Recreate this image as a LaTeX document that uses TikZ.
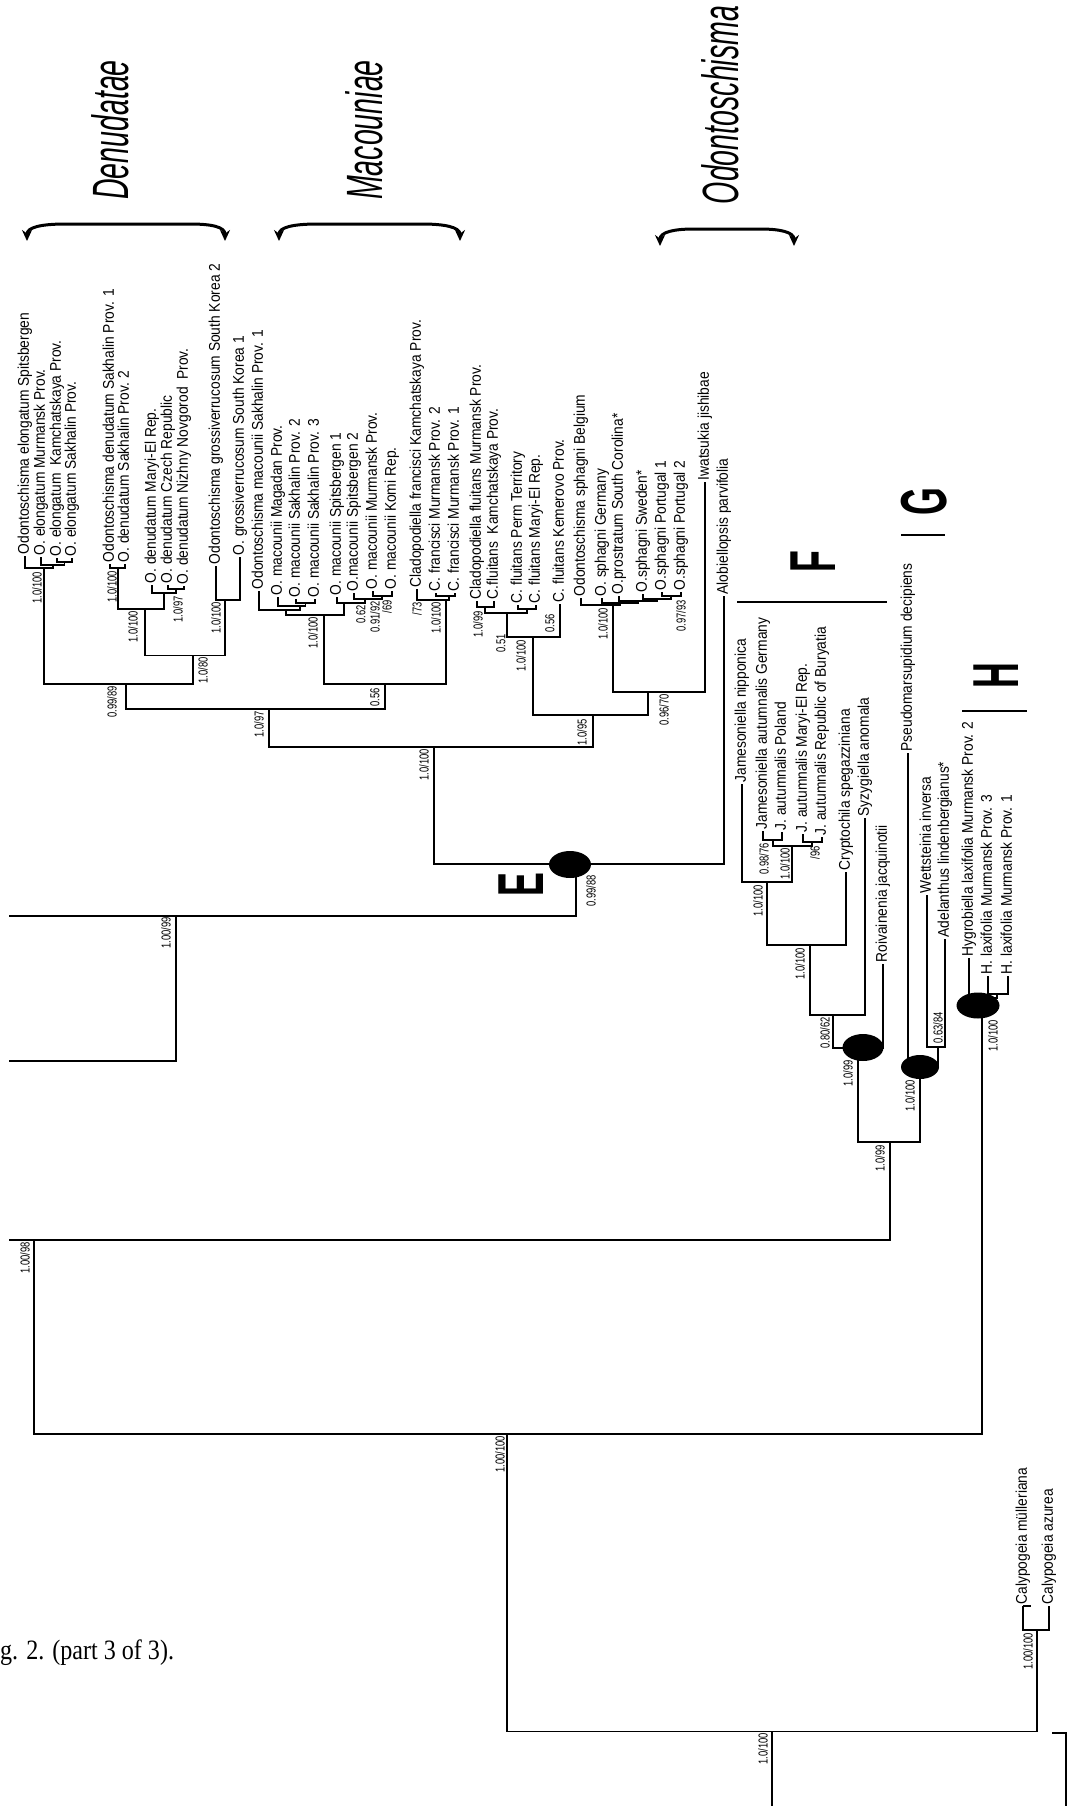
\documentclass[tikz,border=0pt]{standalone}
\usepackage{fontspec}
\usepackage{graphicx}
\setmainfont{Liberation Sans}
\newfontfamily\capfont{Liberation Serif}
\newfontfamily\labfont[FakeStretch=0.89]{Liberation Sans}
\usetikzlibrary{arrows.meta,shapes.geometric}
\newcommand{\sv}[1]{\scalebox{0.72}[1]{#1}}
\newcommand{\cladename}[1]{\scalebox{0.56}[1]{\itshape #1}}
\newcommand{\bigletter}[1]{\scalebox{0.55}[1]{\bfseries #1}}
\begin{document}
\begin{tikzpicture}[x=1pt,y=-1pt,
  br/.style={line width=1.7pt, line join=miter},
  lab/.style={rotate=90, anchor=west, inner sep=1.5pt, font=\labfont\fontsize{15.5}{16}\selectfont, text height=11pt, text depth=3.2pt},
  sup/.style={rotate=90, anchor=east, inner sep=0pt, font=\fontsize{13}{13}\selectfont},
  blob/.style={ellipse, fill=black, draw=none, inner sep=0pt},
  clade/.style={rotate=90, inner sep=0pt, font=\fontsize{51}{51}\selectfont},
  letter/.style={rotate=90, inner sep=0pt, font=\fontsize{65}{65}\selectfont},
  brk/.style={line width=3pt, {Stealth[length=11pt,width=10pt]}-{Stealth[length=11pt,width=10pt]}},
  bar/.style={line width=2pt}]
\fill[white] (0,0) rectangle (1068,1806);
\useasboundingbox (0,0) rectangle (1068,1806);

% ---------- clade names and brackets ----------
\node[clade] (cDen) at (110,130) {\cladename{Denudatae}};
\node[clade] (cMac) at (364,130) {\cladename{Macouniae}};
\node[clade] (cOdo) at (720,105) {\cladename{Odontoschisma}};
\coordinate (bD1) at (27,241); \coordinate (bD2) at (225,241);
\coordinate (bM1) at (279,241); \coordinate (bM2) at (460,241);
\coordinate (bO1) at (660,246); \coordinate (bO2) at (794,246);
\draw[brk] (bD1) .. controls (27,227) and (42,224) .. (66,224) -- (190,224) .. controls (212,224) and (225,227) .. (bD2);
\draw[brk] (bM1) .. controls (279,227) and (294,224) .. (318,224) -- (422,224) .. controls (444,224) and (460,227) .. (bM2);
\draw[brk] (bO1) .. controls (660,232) and (674,229) .. (694,229) -- (760,229) .. controls (780,229) and (794,232) .. (bO2);

% ---------- tip labels: E clade ----------
\node[lab] (t1) at (25,556) {Odontoschisma elongatum Spitsbergen};
\node[lab] (t2) at (41,557) {O. elongatum Murmansk Prov.};
\node[lab] (t3) at (57,558) {O. elongatum\ \ Kamchatskaya Prov.};
\node[lab] (t4) at (72,558) {O. elongatum Sakhalin Prov.};
\node[lab] (t5) at (110,564) {Odontoschisma denudatum Sakhalin Prov. 1};
\node[lab] (t6) at (125,564) {O. denudatum Sakhalin Prov. 2};
\node[lab] (t7) at (152,585) {O. denudatum Maryi-El Rep.};
\node[lab] (t8) at (168,585) {O. denudatum Czech Republic};
\node[lab] (t9) at (184,586) {O. denudatum Nizhny Novgorod\ \ Prov.};
\node[lab] (t10) at (216,566) {Odontoschisma grossiverrucosum South Korea 2};
\node[lab] (t11) at (240,557) {O. grossiverrucosum South Korea 1};
\node[lab] (t12) at (259,591) {Odontoschisma macounii Sakhalin Prov. 1};
\node[lab] (t13) at (278,597) {O. macounii Magadan Prov.};
\node[lab] (t14) at (296,599) {O. macounii Sakhalin Prov. 2};
\node[lab] (t15) at (315,599) {O. macounii Sakhalin Prov. 3};
\node[lab] (t16) at (337,597) {O. macounii Spitsbergen 1};
\node[lab] (t17) at (354,593) {O.macounii Spitsbergen 2};
\node[lab] (t18) at (373,591) {O. macounii Murmansk Prov.};
\node[lab] (t19) at (392,591) {O. macounii Komi Rep.};
\node[lab] (t20) at (417,589) {Cladopodiella francisci Kamchatskaya Prov.};
\node[lab] (t21) at (436,593) {C. francisci Murmansk Prov. 2};
\node[lab] (t22) at (455,593) {C. francisci Murmansk Prov. 1};
\node[lab] (t23) at (477,601) {Cladopodiella fluitans Murmansk Prov.};
\node[lab] (t24) at (494,601) {C.fluitans\ \ Kamchatskaya Prov.};
\node[lab] (t25) at (518,605) {C. fluitans Perm Territory};
\node[lab] (t26) at (536,605) {C. fluitans Maryi-El Rep.};
\node[lab] (t27) at (560,604) {C. fluitans Kemerovo Prov.};
\node[lab] (t28) at (581,598) {Odontoschisma sphagni Belgium};
\node[lab] (t29) at (602,598) {O. sphagni Germany};
\node[lab] (t30) at (619,596) {O.prostratum South Corolina*};
\node[lab] (t31) at (643,594) {O.sphagni Sweden*};
\node[lab] (t32) at (662,592) {O.sphagni Portugal 1};
\node[lab] (t33) at (681,592) {O.sphagni Portugal 2};
\node[lab] (t34) at (705,482) {Iwatsukia jishibae};
\node[lab] (t35) at (724,596) {Alobiellopsis parvifolia};

% ---------- tip labels: F, G, H, outgroup ----------
\node[lab] (tF1) at (742,784) {Jamesoniella nipponica};
\node[lab] (tF2) at (763,831) {Jamesoniella autumnalis Germany};
\node[lab] (tF3) at (782,832) {J. autumnalis Poland};
\node[lab] (tF4) at (803,834) {J. autumnalis Maryi-El Rep.};
\node[lab] (tF5) at (822,837) {J. autumnalis Republic of Buryatia};
\node[lab] (tF6) at (846,872) {Cryptochila spegazziniana};
\node[lab] (tF7) at (865,818) {Syzygiella anomala};
\node[lab] (tF8) at (883,964) {Roivainenia jacquinotii};
\node[lab] (tG1) at (908,753) {Pseudomarsupidium decipiens};
\node[lab] (tG2) at (927,895) {Wettsteinia inversa};
\node[lab] (tG3) at (945,939) {Adelanthus lindenbergianus*};
\node[lab] (tH1) at (969,958) {Hygrobiella laxifolia Murmansk Prov. 2};
\node[lab] (tH2) at (988,976) {H. laxifolia Murmansk Prov. 3};
\node[lab] (tH3) at (1008,976) {H. laxifolia Murmansk Prov. 1};
\node[lab] (tc1) at (1023,1606) {Calypogeia m\"ulleriana};
\node[lab] (tc2) at (1049,1606) {Calypogeia azurea};

% ---------- internal nodes ----------
\coordinate (ne3) at (64.5,562); \coordinate (ne2) at (53,565); \coordinate (nEl) at (44,568);
\coordinate (nP56) at (118,568); \coordinate (nR89) at (176,589); \coordinate (nQ) at (164,593);
\coordinate (nD) at (145,609); \coordinate (nGr) at (225,600); \coordinate (nN5) at (193,655.5);
\coordinate (nDen) at (126,684);
\coordinate (nM4) at (305.5,603); \coordinate (nM3) at (300,606); \coordinate (nM2) at (286,610);
\coordinate (nM7) at (382,596); \coordinate (nM6) at (365,599); \coordinate (nM5) at (344,603);
\coordinate (nM1) at (324,615); \coordinate (nF2) at (449,596); \coordinate (nF) at (446,600);
\coordinate (nMac) at (385,684); \coordinate (nB) at (269,709);
\coordinate (nc1) at (485,607); \coordinate (nc2b) at (527,609); \coordinate (nc0) at (507,613);
\coordinate (nFl) at (533,637);
\coordinate (nSp5) at (671,596); \coordinate (nSp4) at (657,599); \coordinate (nSp3) at (638,601);
\coordinate (nSp2) at (620,603); \coordinate (nSp) at (613,605); \coordinate (nSpI) at (648,692);
\coordinate (nO) at (593,715); \coordinate (nA) at (434,747); \coordinate (nE) at (576,864);
\coordinate (r1) at (176,916); \coordinate (cut1) at (9,916); \coordinate (r2) at (9,1061);
\coordinate (nJa) at (773,840); \coordinate (nJb) at (812,842); \coordinate (nJc) at (792,846);
\coordinate (nJ) at (767,882); \coordinate (nC) at (810,945); \coordinate (nS) at (833,1015);
\coordinate (nR) at (858,1048); \coordinate (nW) at (938,1047); \coordinate (nG) at (920,1067);
\coordinate (nFG) at (890,1142); \coordinate (r3) at (34,1240); \coordinate (cut3) at (9,1240);
\coordinate (nH2) at (997,994); \coordinate (nH) at (982,998);
\coordinate (r4) at (507,1434); \coordinate (nCal) at (1037,1630); \coordinate (r5) at (772,1731.5);
\coordinate (rb) at (772,1806);
\coordinate (m1) at (1052,1733); \coordinate (m2) at (1066,1733); \coordinate (m3) at (1066,1806);

% ---------- branches ----------
\draw[br] (t3.west) |- (ne3); \draw[br] (t4.west) |- (ne3);
\draw[br] (t2.west) |- (ne2); \draw[br] (ne3) |- (ne2);
\draw[br] (t1.west) |- (nEl); \draw[br] (ne2) |- (nEl);
\draw[br] (t5.west) |- (nP56); \draw[br] (t6.west) |- (nP56);
\draw[br] (t8.west) |- (nR89); \draw[br] (t9.west) |- (nR89);
\draw[br] (t7.west) |- (nQ); \draw[br] (nR89) |- (nQ);
\draw[br] (nP56) |- (nD); \draw[br] (nQ) |- (nD);
\draw[br] (t10.west) |- (nGr); \draw[br] (t11.west) |- (nGr);
\draw[br] (nD) |- (nN5); \draw[br] (nGr) |- (nN5);
\draw[br] (nEl) |- (nDen); \draw[br] (nN5) |- (nDen);
\draw[br] (t14.west) |- (nM4); \draw[br] (t15.west) |- (nM4);
\draw[br] (t13.west) |- (nM3); \draw[br] (nM4) |- (nM3);
\draw[br] (t12.west) |- (nM2); \draw[br] (nM3) |- (nM2);
\draw[br] (t18.west) |- (nM7); \draw[br] (t19.west) |- (nM7);
\draw[br] (t17.west) |- (nM6); \draw[br] (nM7) |- (nM6);
\draw[br] (t16.west) |- (nM5); \draw[br] (nM6) |- (nM5);
\draw[br] (nM2) |- (nM1); \draw[br] (nM5) |- (nM1);
\draw[br] (t21.west) |- (nF2); \draw[br] (t22.west) |- (nF2);
\draw[br] (t20.west) |- (nF); \draw[br] (nF2) |- (nF);
\draw[br] (nM1) |- (nMac); \draw[br] (nF) |- (nMac);
\draw[br] (nDen) |- (nB); \draw[br] (nMac) |- (nB);
\draw[br] (t23.west) |- (nc1); \draw[br] (t24.west) |- (nc1);
\draw[br] (t25.west) |- (nc2b); \draw[br] (t26.west) |- (nc2b);
\draw[br] (nc1) |- (nc0); \draw[br] (nc2b) |- (nc0);
\draw[br] (nc0) |- (nFl); \draw[br] (t27.west) |- (nFl);
\draw[br] (t32.west) |- (nSp5); \draw[br] (t33.west) |- (nSp5);
\draw[br] (t31.west) |- (nSp4); \draw[br] (nSp5) |- (nSp4);
\draw[br] (t30.west) |- (nSp3); \draw[br] (nSp4) |- (nSp3);
\draw[br] (t29.west) |- (nSp2); \draw[br] (nSp3) |- (nSp2);
\draw[br] (t28.west) |- (nSp); \draw[br] (nSp2) |- (nSp);
\draw[br] (nSp) |- (nSpI); \draw[br] (t34.west) |- (nSpI);
\draw[br] (nFl) |- (nO); \draw[br] (nSpI) |- (nO);
\draw[br] (nB) |- (nA); \draw[br] (nO) |- (nA);
\draw[br] (nA) |- (nE); \draw[br] (t35.west) |- (nE);
\draw[br] (nE) |- (r1); \draw[br] (cut1) -- (r1);
\draw[br] (r1) |- (r2);
% F clade
\draw[br] (tF2.west) |- (nJa); \draw[br] (tF3.west) |- (nJa);
\draw[br] (tF4.west) |- (nJb); \draw[br] (tF5.west) |- (nJb);
\draw[br] (nJa) |- (nJc); \draw[br] (nJb) |- (nJc);
\draw[br] (tF1.west) |- (nJ); \draw[br] (nJc) |- (nJ);
\draw[br] (nJ) |- (nC); \draw[br] (tF6.west) |- (nC);
\draw[br] (nC) |- (nS); \draw[br] (tF7.west) |- (nS);
\draw[br] (nS) |- (nR); \draw[br] (tF8.west) |- (nR);
% G clade
\draw[br] (tG2.west) |- (nW); \draw[br] (tG3.west) |- (nW);
\draw[br] (tG1.west) |- (nG); \draw[br] (nW) |- (nG);
\draw[br] (nR) |- (nFG); \draw[br] (nG) |- (nFG);
\draw[br] (nFG) |- (r3); \draw[br] (cut3) -- (r3);
% H clade
\draw[br] (tH2.west) |- (nH2); \draw[br] (tH3.west) |- (nH2);
\draw[br] (tH1.west) |- (nH); \draw[br] (nH2) |- (nH);
\draw[br] (r3) |- (r4); \draw[br] (nH) |- (r4);
% outgroup
\draw[br] (tc1.west) -- ++(8,0);
\draw[br] (tc1.west) |- (nCal); \draw[br] (tc2.west) |- (nCal);
\draw[br] (r4) |- (r5); \draw[br] (nCal) |- (r5);
\draw[br] (r5) -- (rb);
\draw[br] (m1) -- (m2) -- (m3);

% ---------- node blobs ----------
\node[blob, minimum width=42pt, minimum height=27pt] (cE) at (570,864.5) {};
\node[blob, minimum width=41pt, minimum height=27pt] (cR) at (863,1047.5) {};
\node[blob, minimum width=38pt, minimum height=24pt] (cG) at (920,1067) {};
\node[blob, minimum width=43pt, minimum height=26pt] (cH) at (978,1005.5) {};

% ---------- support values ----------
\node[sup] (sEl) at (37,572) {\sv{1.0/100}};
\node[sup] (sP56) at (112,571) {\sv{1.0/100}};
\node[sup] (sQ) at (178,596) {\sv{1.0/97}};
\node[sup] (sD) at (133,611) {\sv{1.0/100}};
\node[sup] (sGr) at (216,602) {\sv{1.0/100}};
\node[sup] (sN5) at (203,657) {\sv{1.0/80}};
\node[sup] (sDen) at (112,686) {\sv{0.99/89}};
\node[sup] (sB) at (259,711) {\sv{1.0/97}};
\node[sup] (sM1) at (313,617) {\sv{1.0/100}};
\node[sup] (sM5) at (361,605) {\sv{0.62}};
\node[sup] (sM6) at (375,601) {\sv{0.91/92}};
\node[sup] (sM7) at (387,600) {\sv{/69}};
\node[sup] (sF) at (436,602) {\sv{1.0/100}};
\node[sup] (sF73) at (417,602) {\sv{/73}};
\node[sup] (sMac) at (375,688) {\sv{0.56}};
\node[sup] (sA) at (424,749) {\sv{1.0/100}};
\node[sup] (sc1) at (478,611) {\sv{1.0/99}};
\node[sup] (sc0) at (501,634) {\sv{0.51}};
\node[sup] (sc27) at (550,614) {\sv{0.56}};
\node[sup] (sFl) at (521,640) {\sv{1.0/100}};
\node[sup] (sSp) at (603,608) {\sv{1.0/100}};
\node[sup] (sSp5) at (681,600) {\sv{0.97/93}};
\node[sup] (sSpI) at (664,694) {\sv{0.96/70}};
\node[sup] (sO) at (582,719) {\sv{1.0/95}};
\node[sup] (sE) at (591,875) {\sv{0.99/88}};
\node[sup] (sr1) at (166,917) {\sv{1.00/99}};
\node[sup] (sr3) at (25,1242) {\sv{1.00/98}};
\node[sup] (sr4) at (500,1436) {\sv{1.00/100}};
\node[sup] (sr5) at (763,1733) {\sv{1.0/100}};
\node[sup] (sCal) at (1028,1633) {\sv{1.00/100}};
\node[sup] (sJ) at (758,885) {\sv{1.0/100}};
\node[sup] (sJx) at (764,843) {\sv{0.98/76}};
\node[sup] (sJc) at (785,848) {\sv{1.0/100}};
\node[sup] (sJb) at (815,846) {\sv{/96}};
\node[sup] (sC) at (800,948) {\sv{1.0/100}};
\node[sup] (sS) at (825,1017) {\sv{0.80/62}};
\node[sup] (sR) at (848,1060) {\sv{1.0/99}};
\node[sup] (sFG) at (880,1145) {\sv{1.0/99}};
\node[sup] (sW) at (938,1012) {\sv{0.63/84}};
\node[sup] (sG) at (910,1080) {\sv{1.0/100}};
\node[sup] (sH) at (993,1020) {\sv{1.0/100}};

% ---------- clade letters and bars ----------
\node[letter] (LE) at (521,885) {\bigletter{E}};
\node[letter] (LF) at (813,562) {\bigletter{F}};
\node[letter] (LG) at (924,502) {\bigletter{G}};
\node[letter] (LH) at (996,676) {\bigletter{H}};
\coordinate (fb1) at (737,602); \coordinate (fb2) at (887,602);
\coordinate (gb1) at (901,535); \coordinate (gb2) at (945,535);
\coordinate (hb1) at (962,711); \coordinate (hb2) at (1027,711);
\draw[bar] (fb1) -- (fb2);
\draw[bar] (gb1) -- (gb2);
\draw[bar] (hb1) -- (hb2);

% ---------- caption ----------
\node[anchor=base west, inner sep=0pt, font=\capfont\fontsize{28}{28}\selectfont] (cap) at (0,1659) {\scalebox{0.86}[1]{g. 2. (part 3 of 3).}};
\end{tikzpicture}
\end{document}
